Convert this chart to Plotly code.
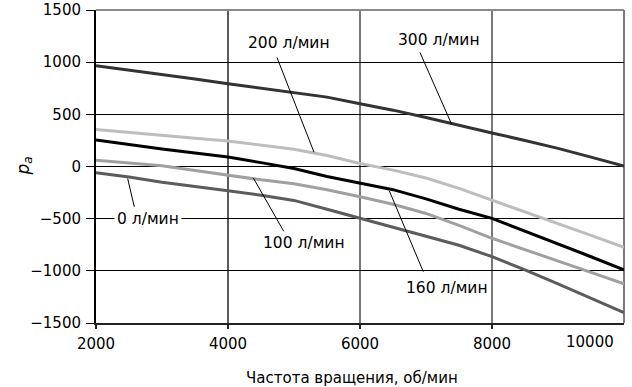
import plotly.graph_objects as go

# ---- data ----
rpm = [2000, 2500, 3000, 3500, 4000, 4500, 5000, 5500, 6000, 6500, 7000, 7500, 8000, 8500, 9000, 9500, 10000]

p_300 = [965, 925, 882, 838, 793, 752, 712, 665, 602, 540, 470, 392, 321, 250, 174, 90, 5]
p_200 = [354, 325, 295, 270, 245, 208, 165, 105, 29, -35, -110, -210, -322, -430, -545, -660, -775]
p_160 = [255, 210, 168, 130, 92, 37, -20, -95, -157, -222, -310, -410, -497, -618, -740, -865, -990]
p_100 = [60, 35, 8, -38, -83, -128, -165, -222, -290, -362, -450, -565, -688, -795, -905, -1015, -1125]
p_0 = [-60, -100, -150, -195, -233, -275, -325, -410, -497, -580, -665, -755, -864, -990, -1125, -1260, -1400]

series_names = ["300 л/мин", "200 л/мин", "160 л/мин", "100 л/мин", "0 л/мин"]
series_values = [p_300, p_200, p_160, p_100, p_0]

x_ticks = [2000, 4000, 6000, 8000, 10000]
x_tick_labels = ["2000", "4000", "6000", "8000", "10000"]
y_ticks = [-1500, -1000, -500, 0, 500, 1000, 1500]

x_title = "Частота вращения, об/мин"
y_title = "<i>p</i><sub><i>a</i></sub>"

# ---- styles ----
colors = ["#333333", "#bdbdbd", "#000000", "#a0a0a0", "#5c5c5c"]
FONT = "DejaVu Sans"

# label placement (text centre, leader start, leader end) in data units
label_pos = {
    "200 л/мин": ((4924, 1179), (4742, 1045), (5303, 137)),
    "300 л/мин": ((7204, 1217), (6909, 1093), (7389, 404)),
    "0 л/мин": ((2795, -505), (2480, -115), (2580, -386)),
    "100 л/мин": ((5151, -736), (4383, -109), (4848, -625)),
    "160 л/мин": ((7311, -1166), (6444, -233), (6959, -1008)),
}

fig = go.Figure()
for name, vals, col in zip(series_names, series_values, colors):
    fig.add_trace(go.Scatter(x=rpm, y=vals, mode="lines", name=name,
                             line=dict(color=col, width=3), showlegend=False))

shapes = []
annotations = []
for name in series_names:
    (tx, ty), (x0, y0), (x1, y1) = label_pos[name]
    shapes.append(dict(type="line", xref="x", yref="y", x0=x0, y0=y0, x1=x1, y1=y1,
                       line=dict(color="black", width=1), layer="above"))
    annotations.append(dict(x=tx, y=ty, xref="x", yref="y", text=name, showarrow=False,
                            font=dict(family=FONT, size=15.5, color="black"),
                            bgcolor="white", borderpad=2))

# vertical grid lines: black at 4000, gray at 6000 / 8000
for xv, col, w in [(4000, "#000000", 1.3), (6000, "#6a6a6a", 1.8), (8000, "#6a6a6a", 1.8)]:
    shapes.append(dict(type="line", xref="x", yref="paper", x0=xv, x1=xv, y0=0, y1=1,
                       line=dict(color=col, width=w), layer="below"))
# gray frame top/right
shapes.append(dict(type="line", xref="paper", yref="paper", x0=0, x1=1, y0=1, y1=1,
                   line=dict(color="#8a8a8a", width=2), layer="below"))
shapes.append(dict(type="line", xref="paper", yref="paper", x0=1, x1=1, y0=0, y1=1,
                   line=dict(color="#7a7a7a", width=2), layer="below"))

# last x tick label, pulled inside the figure as in the reference
annotations.append(dict(x=x_ticks[-1], y=0, xref="x", yref="paper", yshift=-19,
                        xanchor="right", xshift=-8, yanchor="middle",
                        text=x_tick_labels[-1], showarrow=False,
                        font=dict(family=FONT, size=15, color="black")))

annotations.append(dict(x=0.485, y=0, xref="paper", yref="paper", yshift=-55,
                        text=x_title, showarrow=False, yanchor="middle",
                        font=dict(family=FONT, size=15, color="black")))
annotations.append(dict(x=0, y=0.5, xref="paper", yref="paper", xshift=-72,
                        text=y_title, showarrow=False, textangle=-90,
                        xanchor="center", yanchor="middle",
                        font=dict(family=FONT, size=17, color="black")))

fig.update_layout(
    width=632, height=387,
    margin=dict(l=96, r=8, t=10, b=64, autoexpand=False),
    paper_bgcolor="white", plot_bgcolor="white",
    font=dict(family=FONT, size=15, color="black"),
    shapes=shapes, annotations=annotations,
    xaxis=dict(range=[2000, 10000], tickvals=x_ticks[:-1], ticktext=x_tick_labels[:-1],
               automargin=False,
               showgrid=False, zeroline=False,
               showline=True, linecolor="#222222", linewidth=2,
               ticks="outside", ticklen=4, tickcolor="#222222", tickwidth=1.5,
               tickfont=dict(family=FONT, size=15, color="black"),
               ticklabelstandoff=2),
    yaxis=dict(range=[-1500, 1500], tickvals=y_ticks, automargin=False,
               showgrid=True, gridcolor="#000000", gridwidth=1,
               zeroline=False,
               showline=True, linecolor="#000000", linewidth=2,
               ticks="outside", ticklen=8, tickcolor="#000000", tickwidth=1,
               tickfont=dict(family=FONT, size=15, color="black"),
               ticklabelstandoff=2, ticklabeloverflow="allow"),
)

# x tick mark at the right end
shapes.append(dict(type="line", xref="x", yref="paper", x0=x_ticks[-1], x1=x_ticks[-1],
                   y0=0, y1=0, ysizemode="pixel", yanchor=0,
                   line=dict(color="#222222", width=1.5)))
fig.update_layout(shapes=shapes)

fig.write_html("out.html", config={"displayModeBar": False},
               post_script="document.body.style.margin='0';")
